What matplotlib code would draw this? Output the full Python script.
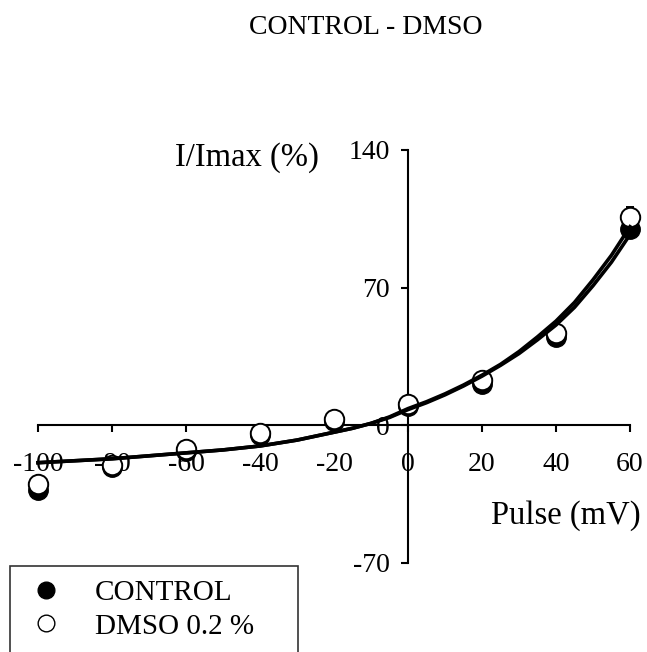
import matplotlib
matplotlib.use('Agg')
import matplotlib.pyplot as plt
import numpy as np

plt.rcParams['font.family'] = 'Liberation Serif'
plt.rcParams['axes.unicode_minus'] = False

# measured points (mV, % of Imax)
pulse = [-100, -80, -60, -40, -20, 0, 20, 40, 60]
control = [-33, -21, -13, -5, 2, 10, 21, 45, 100]
control_err = [3, 1, 1, 1, 1, 1, 1, 1, 2]
dmso = [-30, -20, -12, -4, 3, 11, 23, 47, 106]
dmso_err = [2, 1, 1, 1, 1, 1, 1, 1, 5]

# fitted curves
fit_v = [-100, -90, -80, -70, -60, -50, -40, -30, -20, -15, -10, -5,
         0, 5, 10, 15, 20, 25, 30, 35, 40, 45, 50, 55, 60]
fit_control = [-19, -18, -17, -15.5, -14, -12.5, -10.5, -7.5, -3.5, -1.5, 1, 4,
               8, 11.5, 15.5, 20, 25, 30.5, 36.5, 43.5, 51, 60, 71, 83, 97]
fit_dmso = [-19, -18, -17, -15.5, -14, -12.5, -10.5, -7.5, -3.5, -1.5, 1, 4.3,
            8.5, 12, 16, 20.5, 25.5, 31, 37.5, 45, 53, 62.5, 74, 86.5, 101]

xticks = [-100, -80, -60, -40, -20, 0, 20, 40, 60]
yticks = [-70, 0, 70, 140]

fig = plt.figure(figsize=(6.47, 6.52), dpi=100)
ax = fig.add_axes([38/647, 89/652, 592/647, 413/652])

ax.plot(fit_v, fit_control, color='black', lw=2.6, zorder=4, clip_on=False)
ax.plot(fit_v, fit_dmso, color='black', lw=2.6, zorder=4, clip_on=False)

ax.errorbar(pulse, control, yerr=control_err, fmt='o', color='black', ms=14,
            mec='black', mfc='black', elinewidth=1.5, capsize=3, zorder=2, clip_on=False)
ax.errorbar(pulse, dmso, yerr=dmso_err, fmt='o', color='black', ms=14,
            mec='black', mfc='white', mew=1.4, elinewidth=1.5, capsize=3, zorder=3, clip_on=False)

ax.set_xlim(-100, 60)
ax.set_ylim(-70, 140)
ax.spines['top'].set_visible(False)
ax.spines['right'].set_visible(False)
ax.spines['left'].set_position(('data', 0))
ax.spines['bottom'].set_position(('data', 0))
ax.spines['left'].set_linewidth(1.5)
ax.spines['bottom'].set_linewidth(1.5)

ax.set_xticks(xticks)
ax.set_xticklabels([str(t) for t in xticks])
ax.set_yticks(yticks)
ax.set_yticklabels([str(t) for t in yticks])
ax.tick_params(axis='x', direction='out', length=5, width=1.5, pad=14, labelsize=20)
ax.tick_params(axis='y', direction='out', length=5, width=1.5, pad=8, labelsize=20)

ax.text(-43.5, 136, 'I/Imax (%)', fontsize=23.5, ha='center', va='center')
ax.text(42.7, -45.8, 'Pulse (mV)', fontsize=23.5, ha='center', va='center')

fig.text(366/647, 1 - 28/652, 'CONTROL - DMSO', fontsize=20, ha='center', va='center')

h_ctrl = plt.Line2D([], [], ls='none', marker='o', ms=12, color='black')
h_dmso = plt.Line2D([], [], ls='none', marker='o', ms=12, mec='black', mfc='white', mew=1)
leg = fig.legend([h_ctrl, h_dmso], ['CONTROL', 'DMSO 0.2 %'], loc='upper left',
                 bbox_to_anchor=(10/647, 1 - 567/652, 288/647, 0.001), mode='expand',
                 fontsize=21, frameon=True, fancybox=False, borderaxespad=0,
                 handletextpad=0.85, borderpad=0.45, labelspacing=0.25, handlelength=1.6)
leg.get_frame().set_edgecolor('black')
leg.get_frame().set_linewidth(1.2)

plt.savefig('out.png', dpi=100)
